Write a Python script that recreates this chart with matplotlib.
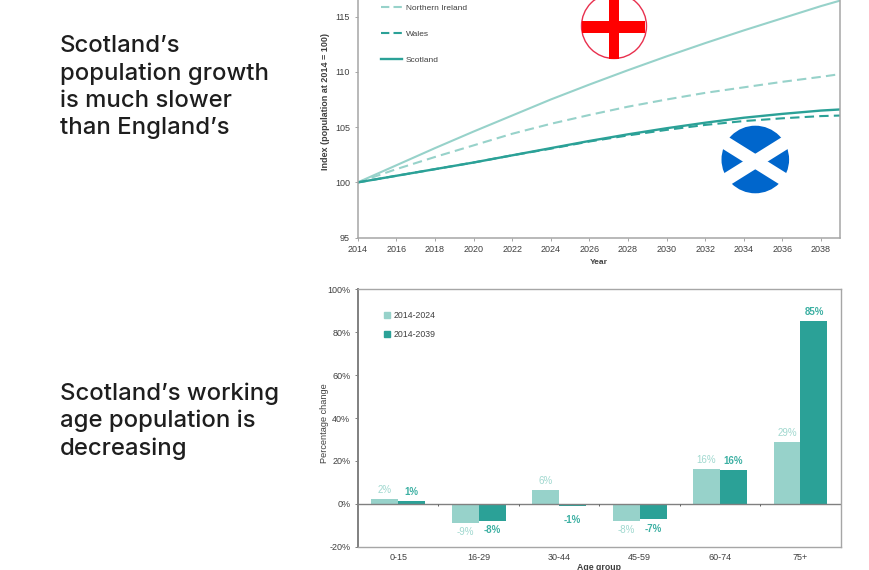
import matplotlib
matplotlib.use('Agg')
import matplotlib.pyplot as plt
from matplotlib.patches import Circle, Rectangle
from matplotlib.lines import Line2D

years = [2014, 2016, 2018, 2020, 2022, 2024, 2026, 2028, 2030, 2032, 2034, 2036, 2038, 2039]
england = [100, 101.55, 103.1, 104.6, 106.05, 107.5, 108.85, 110.15, 111.4, 112.6, 113.75, 114.85, 115.95, 116.45]
northern_ireland = [100, 101.2, 102.3, 103.35, 104.4, 105.3, 106.1, 106.85, 107.5, 108.1, 108.6, 109.1, 109.55, 109.8]
wales = [100, 100.6, 101.2, 101.8, 102.45, 103.05, 103.7, 104.25, 104.75, 105.2, 105.55, 105.8, 106.0, 106.05]
scotland = [100, 100.6, 101.2, 101.8, 102.45, 103.1, 103.75, 104.35, 104.9, 105.4, 105.85, 106.2, 106.5, 106.6]

age_groups = ['0-15', '16-29', '30-44', '45-59', '60-74', '75+']
change_2024 = [2.3, -8.8, 6.5, -7.8, 16.0, 28.6]
change_2039 = [1.5, -7.8, -1.2, -7.0, 15.7, 85.4]
labels_2024 = ['2%', '-9%', '6%', '-8%', '16%', '29%']
labels_2039 = ['1%', '-8%', '-1%', '-7%', '16%', '85%']

heading_top = 'Scotland\u2019s\npopulation growth\nis much slower\nthan England\u2019s'
heading_bottom = 'Scotland\u2019s working\nage population is\ndecreasing'

LIGHT = '#97D2CA'
DARK = '#2BA197'
GREY = '#A6A6A6'
TEXT = '#404040'
W, H = 870, 570

plt.rcParams['font.family'] = ['Liberation Sans', 'DejaVu Sans']
fig = plt.figure(figsize=(8.7, 5.7), dpi=100)


def axes_px(left, top, right, bottom):
    return fig.add_axes([left / W, 1 - bottom / H, (right - left) / W, (bottom - top) / H])


# overlay in pixel coords, for the flags and legends
over = fig.add_axes([0, 0, 1, 1], zorder=5)
over.set_xlim(0, W)
over.set_ylim(H, 0)
over.axis('off')
over.patch.set_alpha(0)

# top chart
ax1 = axes_px(357.7, 0, 840.3, 237.7)
ax1.plot(years, england, color=LIGHT, lw=1.5)
ax1.plot(years, northern_ireland, color=LIGHT, lw=1.5, ls=(0, (4.5, 2.5)))
ax1.plot(years, scotland, color=DARK, lw=1.7)
ax1.plot(years, wales, color=DARK, lw=1.5, ls=(0, (4.5, 2.5)))
ax1.set_xlim(2014, 2039)
ax1.set_ylim(95, 116.5)
ax1.set_xticks(range(2014, 2039, 2))
ax1.set_yticks(range(95, 116, 5))
ax1.set_xlabel('Year', fontsize=6, fontweight='bold', color=TEXT, labelpad=3.5)
ax1.set_ylabel('Index (population at 2014 = 100)', fontsize=6.5, fontweight='bold', color=TEXT, labelpad=4)
ax1.yaxis.label.set_y(0.571)
ax1.spines['top'].set_visible(False)
for s in ax1.spines.values():
    s.set_color(GREY)
    s.set_linewidth(1.1)
ax1.tick_params(labelsize=6.5, labelcolor=TEXT, color=GREY, length=2.5, width=0.7, pad=3)

handles = [Line2D([], [], color=LIGHT, lw=1.5, ls=(0, (4, 2))),
           Line2D([], [], color=DARK, lw=1.5, ls=(0, (4, 2))),
           Line2D([], [], color=DARK, lw=1.7)]
leg1 = over.legend(handles, ['Northern Ireland', 'Wales', 'Scotland'], loc='upper left',
                   bbox_to_anchor=(381 / W, 1 - 4 / H), bbox_transform=fig.transFigure, frameon=False,
                   fontsize=6, labelcolor=TEXT, labelspacing=2.18, handlelength=2.5, handletextpad=0.5,
                   borderpad=0, borderaxespad=0)
over.add_artist(leg1)

# bottom chart
ax2 = axes_px(358, 289.3, 840.7, 546.7)
xs = list(range(len(age_groups)))
bar_w = 0.335
ax2.bar([x - bar_w / 2 for x in xs], change_2024, bar_w, color=LIGHT)
ax2.bar([x + bar_w / 2 for x in xs], change_2039, bar_w, color=DARK)
ax2.set_xlim(-0.5, 5.5)
ax2.set_ylim(-20, 100)
ax2.set_yticks(range(-20, 101, 20))
ax2.set_yticklabels([f'{v}%' for v in range(-20, 101, 20)])
ax2.set_xticks(xs)
ax2.set_xticklabels(age_groups)
ax2.tick_params(axis='x', length=0, labelsize=6.5, labelcolor=TEXT, pad=4.5)
ax2.tick_params(axis='y', length=2.5, width=0.7, color='#808080', labelsize=6.5, labelcolor=TEXT, pad=3)
ax2.set_xlabel('Age group', fontsize=6.3, fontweight='bold', color=TEXT, labelpad=0.5)
ax2.set_ylabel('Percentage change', fontsize=6.6, color=TEXT, labelpad=-1)
ax2.yaxis.label.set_y(0.48)
for s in ax2.spines.values():
    s.set_color(GREY)
    s.set_linewidth(1)
ax2.spines['left'].set_color('#808080')
ax2.spines['left'].set_linewidth(1.4)
ax2.axhline(0, color='#808080', lw=1)
ax2.vlines([x + 0.5 for x in xs], -0.9, 0, color='#606060', lw=0.7)

for i, x in enumerate(xs):
    up = change_2024[i] >= 0
    ax2.annotate(labels_2024[i], (x - bar_w / 2, change_2024[i]), xytext=(0, 6.5 if up else -7),
                 textcoords='offset points', ha='center', va='center', fontsize=7, color='#A0D8CF')
    up = change_2039[i] >= 0
    off = 6.5 if up else -7
    if labels_2039[i] == '-1%':
        off = -10
    ax2.annotate(labels_2039[i], (x + bar_w / 2, change_2039[i]), xytext=(0, off),
                 textcoords='offset points', ha='center', va='center', fontsize=7, fontweight='bold', color='#3DB0A3')

over.legend(handles=[Line2D([], [], color=LIGHT, marker='s', ms=4, ls=''),
                     Line2D([], [], color=DARK, marker='s', ms=4, ls='')],
            labels=['2014-2024', '2014-2039'], loc='upper left',
            bbox_to_anchor=(383 / W, 1 - 311 / H), bbox_transform=fig.transFigure, frameon=False,
            fontsize=6.3, labelcolor=TEXT, labelspacing=1.15, handlelength=1, handletextpad=0.25,
            borderpad=0, borderaxespad=0)

# flags
over.add_patch(Circle((614, 26), 32.5, facecolor='white', edgecolor='#E8304E', lw=1))
over.add_patch(Rectangle((582.5, 20.5), 63, 12, color='#FF0000', lw=0))
over.add_patch(Rectangle((609, -7), 10, 65.5, color='#FF0000', lw=0))

over.add_patch(Circle((755.3, 159.5), 33.8, facecolor='#0066CC', edgecolor='none'))
for sign in (1, -1):
    over.add_line(Line2D([755.3 - 45, 755.3 + 45], [161.5 - sign * 28.1, 161.5 + sign * 28.1], color='white',
                         lw=9.5, solid_capstyle='butt'))

# headings
fig.text(60 / W, 1 - 87 / H, heading_top, fontsize=17.2, family='Inter', fontweight='medium', color='#1E1E1E',
         va='center', linespacing=1.29)
fig.text(60 / W, 1 - 421 / H, heading_bottom, fontsize=17.2, family='Inter', fontweight='medium', color='#1E1E1E',
         va='center', linespacing=1.29)

fig.savefig('out.png', dpi=100)
